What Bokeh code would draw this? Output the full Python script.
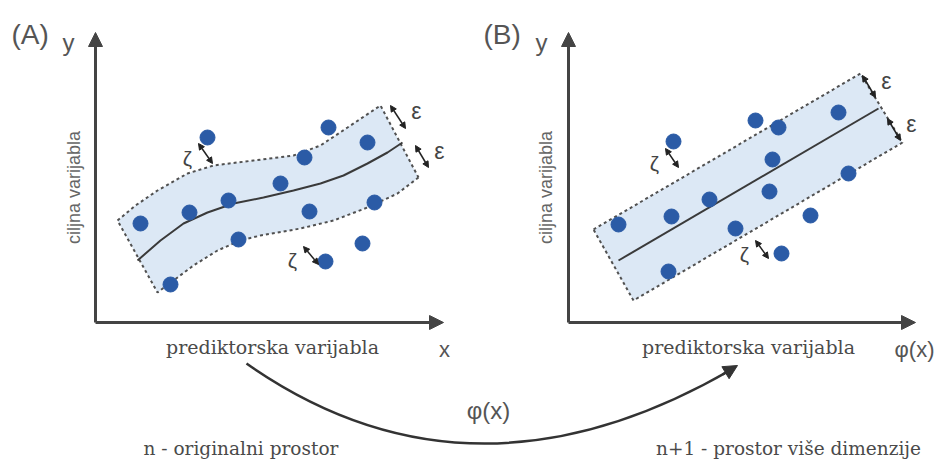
import math
from bokeh.plotting import figure
from bokeh.models import Arrow, NormalHead, Range1d
from bokeh.core.properties import value
from bokeh.embed import file_html
from bokeh.resources import INLINE

# ---------------- data (pixel-space of the diagram) ----------------
# Panel A : scattered observations
a_pts_x = [140, 189, 228, 207, 238, 170, 280, 304, 309, 328, 367, 374, 362, 325]
a_pts_y = [223, 212, 200, 137, 239, 284, 183, 157, 211, 127, 142, 202, 243, 261]
# Panel A : epsilon tube (upper edge left->right, lower edge right->left)
a_up_x = [117, 135, 157, 187, 213, 253, 293, 320, 347, 380]
a_up_y = [220, 205, 190, 173, 165, 160, 155, 145, 127, 105]
a_lo_x = [418, 397, 367, 333, 300, 260, 240, 217, 193, 173, 157]
a_lo_y = [177, 193, 207, 220, 228, 235, 240, 250, 265, 280, 292]
# Panel A : fitted regression curve
a_fit_x = [137, 160, 183, 207, 233, 263, 293, 320, 343, 367, 387, 402]
a_fit_y = [260, 240, 223, 212, 203, 197, 190, 183, 175, 163, 152, 142]

# Panel B : scattered observations
b_pts_x = [618, 671, 709, 673, 735, 668, 755, 778, 772, 769, 838, 848, 810, 781]
b_pts_y = [224, 216, 199, 141, 228, 271, 120, 127, 159, 191, 112, 173, 215, 253]
# Panel B : epsilon tube corners and linear fit
b_tube_x = [593, 860, 902, 633]
b_tube_y = [229, 73, 142, 300]
b_fit_x = [618, 878]
b_fit_y = [260, 108]

# slack (zeta) and epsilon markers: (x0, y0, x1, y1)
zeta_a = [(198, 143, 212, 163), (303, 246, 318, 264)]
eps_a = [(390, 105, 405, 128), (415, 145, 428, 167)]
zeta_b = [(665, 148, 678, 167), (755, 240, 768, 258)]
eps_b = [(862, 75, 875, 97), (887, 118, 900, 140)]

# text labels
axis_x_label = "prediktorska varijabla"
axis_y_label = "ciljna varijabla"
space_a = "n - originalni prostor"
space_b = "n+1 - prostor više dimenzije"

# ---------------- styling ----------------
DOT = "#2b5ba6"
BAND = "#dce8f5"
DASH = "#505050"
AX = "#444444"
TXT = "#555555"
SANS = "Liberation Sans"
SERIF = "DejaVu Serif"

W, H = 944, 461
p = figure(width=W, height=H, output_backend="svg", toolbar_location=None,
           x_range=Range1d(0, W), y_range=Range1d(H, 0), min_border=0,
           background_fill_color="white", border_fill_color="white")
p.axis.visible = False
p.grid.visible = False
p.outline_line_color = None


def axes(x0, y0, xtip, ytip):
    p.add_layout(Arrow(end=NormalHead(size=14, fill_color=AX, line_color=AX),
                       x_start=x0, y_start=y0, x_end=x0, y_end=ytip,
                       line_color=AX, line_width=3))
    p.add_layout(Arrow(end=NormalHead(size=14, fill_color=AX, line_color=AX),
                       x_start=x0, y_start=y0, x_end=xtip, y_end=y0,
                       line_color=AX, line_width=3))


def dbl(seg, color="#222222"):
    x0, y0, x1, y1 = seg
    p.add_layout(Arrow(start=NormalHead(size=6, fill_color=color, line_color=color),
                       end=NormalHead(size=6, fill_color=color, line_color=color),
                       x_start=x0, y_start=y0, x_end=x1, y_end=y1,
                       line_color=color, line_width=1.5))


def lab(x, y, t, size, font=SANS, align="center", base="middle", angle=0, color=TXT, style="normal"):
    p.text(x=[x], y=[y], text=[t], text_font=value(font),
           text_font_size=f"{size}px", text_align=align,
           text_baseline=base, angle=angle, text_color=color,
           text_font_style=style)


# ---- Panel A ----
p.patch(a_up_x + a_lo_x, a_up_y + a_lo_y, fill_color=BAND, line_color=None)
p.line(a_up_x + [a_lo_x[0]], a_up_y + [a_lo_y[0]], line_color=DASH, line_width=2, line_dash="3 3")
p.line(a_lo_x + [a_up_x[0]], a_lo_y + [a_up_y[0]], line_color=DASH, line_width=2, line_dash="3 3")
p.line(a_fit_x, a_fit_y, line_color="#3a3a3a", line_width=2)
p.scatter(a_pts_x, a_pts_y, size=15, fill_color=DOT, line_color=DOT)
axes(95, 322, 443, 32)

# ---- Panel B ----
p.patch(b_tube_x, b_tube_y, fill_color=BAND, line_color=None)
p.line(b_tube_x + [b_tube_x[0]], b_tube_y + [b_tube_y[0]], line_color=DASH, line_width=2, line_dash="3 3")
p.line(b_fit_x, b_fit_y, line_color="#3a3a3a", line_width=2)
p.scatter(b_pts_x, b_pts_y, size=15, fill_color=DOT, line_color=DOT)
axes(568, 322, 915, 32)

for s in zeta_a + eps_a + zeta_b + eps_b:
    dbl(s)

# greek markers
for (x0, y0, x1, y1) in zeta_a + zeta_b:
    lab(x0 - 11, (y0 + y1) / 2 + 5, "ζ", 21, color="#444444")
for (x0, y0, x1, y1) in eps_a + eps_b:
    lab(x1 + 11, (y0 + y1) / 2 - 6, "ε", 23, color="#444444")

# ---- mapping arrow ----
p.quadratic(x0=[246], y0=[363], x1=[731], y1=[369], cx=[470], cy=[520],
            line_color="#333333", line_width=2.5)
p.add_layout(Arrow(end=NormalHead(size=14, fill_color="#333333", line_color="#333333"),
                   x_start=722, y_start=374, x_end=737, y_end=365,
                   line_color="#333333", line_width=2.5))

# ---- texts ----
lab(11, 34, "(A)", 28, align="left")
lab(62, 42, "y", 24, align="left")
lab(483, 34, "(B)", 28, align="left")
lab(535, 42, "y", 24, align="left")
lab(73, 187, axis_y_label, 18, angle=math.pi / 2, color="#666666")
lab(545, 187, axis_y_label, 18, angle=math.pi / 2, color="#666666")
lab(272, 346, axis_x_label, 19, font=SERIF, color="#4a4a4a")
lab(748, 346, axis_x_label, 19, font=SERIF, color="#4a4a4a")
lab(444, 349, "x", 22)
lab(914, 349, "φ(x)", 22)
lab(488, 410, "φ(x)", 24)
lab(143, 448, space_a, 18.5, font=SERIF, align="left", color="#4a4a4a")
lab(788, 448, space_b, 18.5, font=SERIF, color="#4a4a4a")

open("out.html", "w").write(file_html(p, INLINE))
